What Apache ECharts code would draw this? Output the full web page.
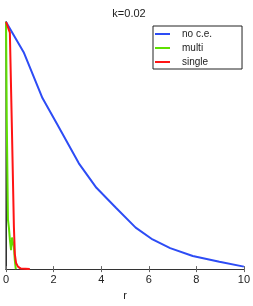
<!DOCTYPE html>
<html><head><meta charset="utf-8">
<script src="https://cdn.jsdelivr.net/npm/echarts@6/dist/echarts.min.js"></script>
<style>html,body{margin:0;padding:0;background:#fff}#c{width:253px;height:306px}</style>
</head><body><div id="c"></div>
<script>
const title = 'k=0.02';
const xTicks = [0, 2, 4, 6, 8, 10];
const seriesNames = ['no c.e.', 'multi', 'single'];
const noceR = [0, 0.74, 1.53, 2.15, 3.06, 3.80, 4.63, 5.45, 6.16, 6.90, 7.85, 8.97, 10];
const noceV = [1.0, 0.878, 0.692, 0.586, 0.428, 0.329, 0.247, 0.168, 0.120, 0.085, 0.053, 0.030, 0.010];
const multiR = [0, 0.03, 0.08, 0.12, 0.16, 0.21, 0.25, 0.29, 0.33, 0.37, 0.41];
const multiV = [1.0, 0.6, 0.2, 0.168, 0.12, 0.077, 0.128, 0.13, 0.09, 0.034, 0.0];
const singleR = [0, 0.16, 0.25, 0.33, 0.37, 0.42, 0.5, 0.62, 1.0];
const singleV = [1.0, 0.957, 0.55, 0.17, 0.06, 0.025, 0.01, 0.002, 0.0];
const colors = ['#2d4cf5', '#5ee000', '#ff1414'];

const zip = (a, b) => a.map((v, i) => [v, b[i]]);
const chart = echarts.init(document.getElementById('c'), null, {renderer: 'canvas'});
const font = 'Liberation Sans, Arial, sans-serif';
chart.setOption({
  animation: false,
  title: {text: title, left: 124, textAlign: 'center', top: 3,
    textStyle: {fontSize: 11, fontWeight: 'normal', color: '#222', fontFamily: font}},
  legend: {
    orient: 'vertical', left: 153, top: 26,
    padding: [2, 30, 1, 2], itemGap: 2, itemWidth: 15, itemHeight: 2,
    borderColor: '#222', borderWidth: 1, icon: 'rect',
    textStyle: {fontSize: 10, color: '#222', fontFamily: font, lineHeight: 12, padding: [0, 0, 0, 7]},
    data: seriesNames
  },
  grid: {left: 3, right: 8, top: 22, bottom: 30, containLabel: false},
  xAxis: [{
    type: 'value', min: 0, max: 10, interval: 2, position: 'bottom',
    name: 'r', nameLocation: 'middle', nameGap: 19,
    nameTextStyle: {fontSize: 11, color: '#222', fontFamily: font},
    axisLine: {lineStyle: {color: '#333', width: 1}},
    axisTick: {inside: true, length: 3, lineStyle: {color: '#666'}},
    axisLabel: {fontSize: 11, color: '#222', fontFamily: font, margin: 5,
      formatter: v => xTicks.includes(v) ? String(v) : ''},
    splitLine: {show: false}
  }, {
    type: 'value', min: 0, max: 10, interval: 2, position: 'top',
    axisLine: {lineStyle: {color: '#333', width: 1}},
    axisTick: {inside: true, length: 3, lineStyle: {color: '#666'}},
    axisLabel: {show: false}, splitLine: {show: false}
  }],
  yAxis: [{
    type: 'value', min: 0, max: 1, position: 'left',
    axisLine: {show: true, lineStyle: {color: '#888', width: 2}},
    axisTick: {show: false}, axisLabel: {show: false}, splitLine: {show: false}
  }, {
    type: 'value', min: 0, max: 1, position: 'right',
    axisLine: {show: true, lineStyle: {color: '#333', width: 1}},
    axisTick: {show: false}, axisLabel: {show: false}, splitLine: {show: false}
  }],
  series: [
    {name: seriesNames[0], type: 'line', data: zip(noceR, noceV), showSymbol: false, color: colors[0], lineStyle: {width: 2}},
    {name: seriesNames[1], type: 'line', data: zip(multiR, multiV), showSymbol: false, color: colors[1], lineStyle: {width: 2}},
    {name: seriesNames[2], type: 'line', data: zip(singleR, singleV), showSymbol: false, color: colors[2], lineStyle: {width: 2}}
  ]
});
</script></body></html>
